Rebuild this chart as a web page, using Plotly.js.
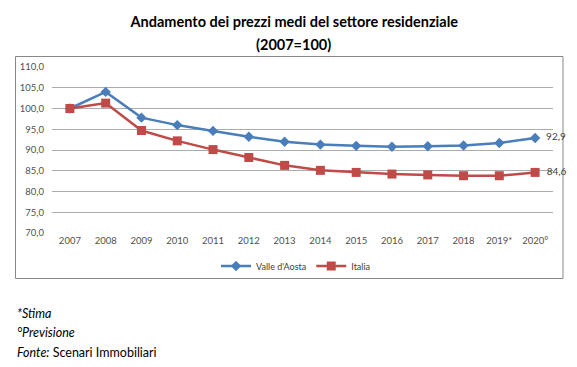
<!DOCTYPE html>
<html>
<head>
<meta charset="utf-8">
<script src="https://cdn.plot.ly/plotly-3.0.1.min.js"></script>
<style>
html,body{margin:0;padding:0;background:#fff;}
#chart{width:577px;height:367px;}
</style>
</head>
<body>
<div id="chart"></div>
<script>
const years = ['2007','2008','2009','2010','2011','2012','2013','2014','2015','2016','2017','2018','2019*','2020°'];
const valleDAosta = [100.0, 104.0, 97.8, 96.0, 94.6, 93.2, 92.0, 91.3, 91.0, 90.8, 90.9, 91.1, 91.7, 92.9];
const italia = [100.0, 101.3, 94.7, 92.2, 90.1, 88.2, 86.3, 85.1, 84.6, 84.2, 84.0, 83.8, 83.8, 84.6];
const seriesNames = ['Valle d\'Aosta', 'Italia'];

const fmt = v => v.toFixed(1).replace('.', ',');
const lastLabel = arr => arr.map((v, i) => i === arr.length - 1 ? '\u2002' + fmt(v) : '');

const FONT = 'Lato, "Open Sans", sans-serif';

const traces = [
  {
    x: years, y: valleDAosta, name: seriesNames[0], type: 'scatter', mode: 'lines+markers+text',
    line: {color: '#4a7ebb', width: 2.5},
    marker: {symbol: 'diamond', size: 8, color: '#4a7ebb'},
    text: lastLabel(valleDAosta), textposition: 'middle right',
    textfont: {family: FONT, size: 10, color: '#404040'},
    cliponaxis: false
  },
  {
    x: years, y: italia, name: seriesNames[1], type: 'scatter', mode: 'lines+markers+text',
    line: {color: '#be4b48', width: 2.5},
    marker: {symbol: 'square', size: 9, color: '#be4b48'},
    text: lastLabel(italia), textposition: 'middle right',
    textfont: {family: FONT, size: 10, color: '#404040'},
    cliponaxis: false
  }
];

// plot area: x 52..553, y 67..233
const L = 52, R = 553, T = 67, B = 233, W = 577, H = 367;
const px = x => (x - L) / (R - L);
const py = y => (B - y) / (B - T);

const layout = {
  width: W, height: H,
  margin: {l: L, r: W - R, t: T, b: H - B, pad: 0},
  paper_bgcolor: '#ffffff', plot_bgcolor: '#ffffff',
  separators: ', ',
  font: {family: FONT, size: 10, color: '#404040'},
  title: {
    text: '<b>Andamento dei prezzi medi del settore residenziale</b>',
    font: {family: FONT, size: 14.5, color: '#000000'},
    x: 0.51, xanchor: 'center', xref: 'container',
    y: 1 - 22 / H, yanchor: 'middle', yref: 'container'
  },
  showlegend: true,
  legend: {
    orientation: 'h', x: px(296), xanchor: 'center', y: py(266), yanchor: 'middle',
    font: {family: FONT, size: 9, color: '#404040'},
    itemwidth: 30, tracegroupgap: 0, bgcolor: 'rgba(0,0,0,0)'
  },
  xaxis: {
    type: 'category', range: [-0.5, 13.5],
    showgrid: false, zeroline: false, showline: false,
    ticks: '', ticklen: 0,
    tickfont: {family: FONT, size: 9.5, color: '#505050'},
    fixedrange: true
  },
  yaxis: {
    range: [70, 110], dtick: 5, tick0: 70, tickformat: '.1f',
    showgrid: true, gridcolor: '#ababab', gridwidth: 1,
    zeroline: false, showline: false, ticks: '',
    tickfont: {family: FONT, size: 9.5, color: '#505050'},
    ticklabelstandoff: 7,
    fixedrange: true
  },
  shapes: [
    {type: 'rect', xref: 'paper', yref: 'paper',
     x0: px(15.5), x1: px(563), y0: py(278.5), y1: py(56.5),
     line: {color: '#888888', width: 1}, fillcolor: 'rgba(0,0,0,0)', layer: 'below'}
  ],
  annotations: [
    {text: '<b>(2007=100)</b>', xref: 'paper', yref: 'paper', x: px(293), y: py(45),
     xanchor: 'center', yanchor: 'middle', showarrow: false,
     font: {family: FONT, size: 14.5, color: '#000000'}},
    {text: '<i>*Stima</i>', xref: 'paper', yref: 'paper', x: px(15), y: py(313),
     xanchor: 'left', yanchor: 'middle', showarrow: false,
     font: {family: FONT, size: 12.5, color: '#000000'}},
    {text: '<i>°Previsione</i>', xref: 'paper', yref: 'paper', x: px(15), y: py(332),
     xanchor: 'left', yanchor: 'middle', showarrow: false,
     font: {family: FONT, size: 12.5, color: '#000000'}},
    {text: '<i>Fonte:</i> Scenari Immobiliari', xref: 'paper', yref: 'paper', x: px(15), y: py(352),
     xanchor: 'left', yanchor: 'middle', showarrow: false,
     font: {family: FONT, size: 12.5, color: '#000000'}}
  ]
};

Plotly.newPlot('chart', traces, layout, {displayModeBar: false, staticPlot: true});
</script>
</body>
</html>
